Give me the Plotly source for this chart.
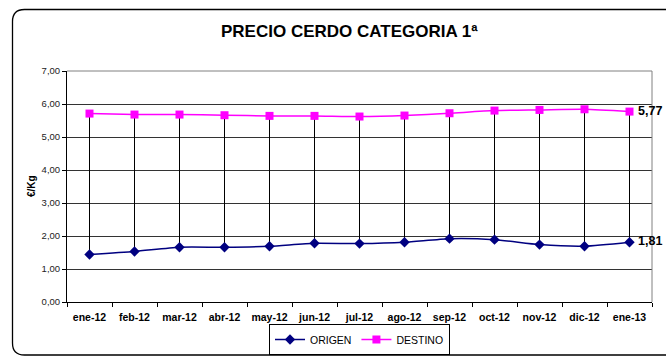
import plotly.graph_objects as go

# Monthly prices, €/Kg
meses = ["ene-12", "feb-12", "mar-12", "abr-12", "may-12", "jun-12", "jul-12",
         "ago-12", "sep-12", "oct-12", "nov-12", "dic-12", "ene-13"]
origen = [1.44, 1.53, 1.66, 1.66, 1.69, 1.78, 1.77, 1.81, 1.92, 1.89, 1.74, 1.69, 1.81]
destino = [5.71, 5.68, 5.68, 5.66, 5.64, 5.64, 5.62, 5.65, 5.72, 5.80, 5.82, 5.84, 5.77]
y_ticks = [0, 1, 2, 3, 4, 5, 6, 7]

W, H = 666, 358
ML, MR, MT, MB = 67, 14, 71, 56
PW, PH = W - ML - MR, H - MT - MB


def px(x):
    return (x - ML) / PW


def py(y):
    return (H - MB - y) / PH


FONT = "Liberation Sans, Arial, sans-serif"

fig = go.Figure()

# vertical high-low lines between the two series
hx, hy = [], []
for m, o, d in zip(meses, origen, destino):
    hx += [m, m, None]
    hy += [o, d, None]
fig.add_trace(go.Scatter(x=hx, y=hy, mode="lines", line=dict(color="black", width=1),
                         showlegend=False, hoverinfo="skip"))

fig.add_trace(go.Scatter(x=meses, y=origen, name="ORIGEN", mode="lines+markers",
                         line=dict(color="#000080", width=1.5, shape="spline", smoothing=0.6),
                         marker=dict(symbol="diamond", size=8, color="#000080")))
fig.add_trace(go.Scatter(x=meses, y=destino, name="DESTINO", mode="lines+markers",
                         line=dict(color="#FF00FF", width=1.5, shape="spline", smoothing=0.6),
                         marker=dict(symbol="square", size=8, color="#FF00FF")))

# value labels on the last month
for serie in (origen, destino):
    fig.add_annotation(x=meses[-1], y=serie[-1], text=f"{serie[-1]:.2f}".replace(".", ","),
                       showarrow=False, xanchor="left", yanchor="middle", xshift=6, yshift=1,
                       font=dict(family=FONT, size=12.5, color="black", weight="bold"))

# title and axis label
fig.add_annotation(x=px(349), y=py(31), xref="paper", yref="paper",
                   xanchor="center", yanchor="middle",
                   text="<b>PRECIO CERDO CATEGORIA 1ª</b>", showarrow=False,
                   font=dict(family=FONT, size=17, color="black"))
fig.add_annotation(x=px(31), y=py(186), xref="paper", yref="paper",
                   xanchor="center", yanchor="middle",
                   text="<b>€/Kg</b>", showarrow=False, textangle=-90,
                   font=dict(family=FONT, size=10, color="black"))

# rounded chart frame
x0, y0, x1, y1, r = px(12.5), py(9.5), px(675), py(355), 12
rx, ry = r / PW, r / PH
path = (f"M {x0},{y0 - ry} Q {x0},{y0} {x0 + rx},{y0} L {x1},{y0} "
        f"M {x0},{y0 - ry} L {x0},{y1 + ry} Q {x0},{y1} {x0 + rx},{y1} L {x1},{y1}")
fig.add_shape(type="path", path=path, xref="paper", yref="paper",
              line=dict(color="black", width=1.3), layer="above")

fig.update_layout(
    width=W, height=H,
    margin=dict(l=ML, r=MR, t=MT, b=MB, autoexpand=False),
    paper_bgcolor="white", plot_bgcolor="white",
    separators=",.",
    font=dict(family=FONT, size=9, color="black"),
    showlegend=True,
    legend=dict(orientation="h", x=0.5, xanchor="center", y=py(355), yanchor="bottom",
                bordercolor="black", borderwidth=1, bgcolor="white",
                font=dict(family=FONT, size=10.5, color="black"),
                itemwidth=30, tracegroupgap=0),
    xaxis=dict(type="category", categoryorder="array", categoryarray=meses,
               range=[-0.5, len(meses) - 0.5], tickson="boundaries", tickangle=0,
               ticks="outside", ticklen=4, tickcolor="black", ticklabelstandoff=5,
               showline=True, linecolor="black", linewidth=1, mirror=False,
               showgrid=False, tickfont=dict(family=FONT, size=10.5, color="black", weight="bold")),
    yaxis=dict(range=[0, 7], tickvals=y_ticks, tickformat=".2f",
               ticks="outside", ticklen=4, tickcolor="black",
               showline=True, linecolor="black", linewidth=1,
               showgrid=True, gridcolor="#333333", gridwidth=1, zeroline=False,
               tickfont=dict(family=FONT, size=9.5, color="#222")),
)

# top and right plot-area border
fig.add_shape(type="line", xref="paper", yref="paper", x0=1, x1=1, y0=0, y1=1,
              line=dict(color="#808080", width=1))
fig.add_shape(type="line", xref="paper", yref="paper", x0=0, x1=1, y0=1, y1=1,
              line=dict(color="#808080", width=1))

fig.write_html("out.html")
